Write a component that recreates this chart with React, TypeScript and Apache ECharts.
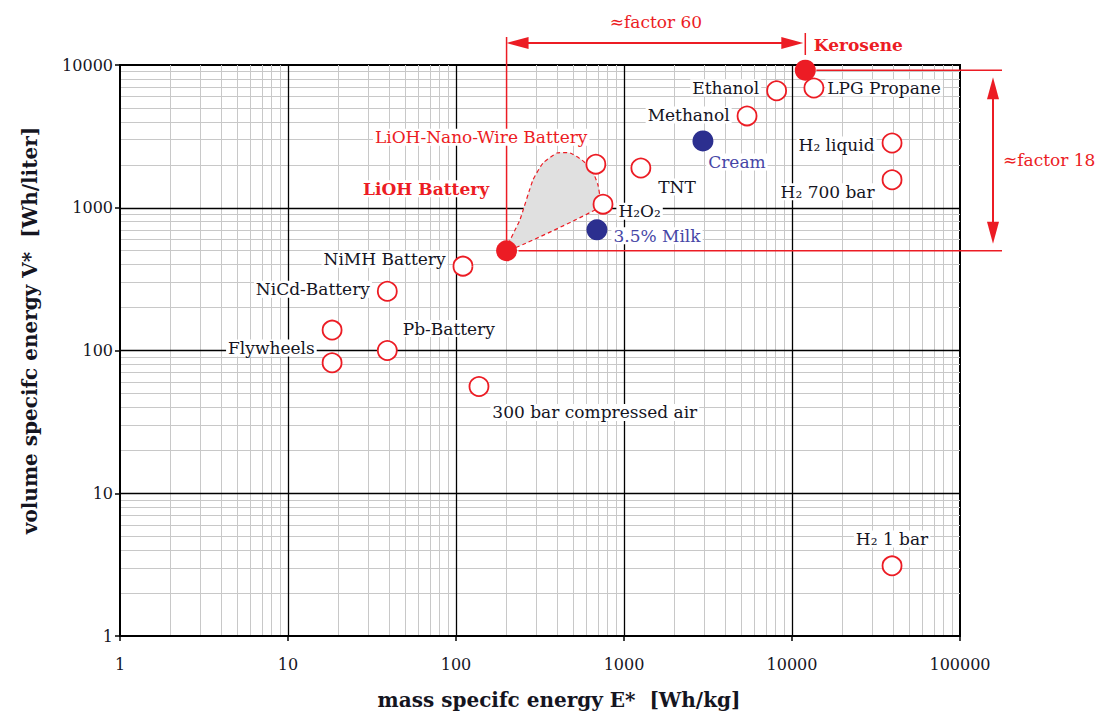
import React, { useEffect, useRef } from "react";
import * as echarts from "echarts";

// ---------- data ----------
const openNames = [
  "Ethanol", "LPG Propane", "Methanol", "H₂ liquid", "H₂ 700 bar",
  "LiOH-Nano-Wire Battery", "TNT", "H₂O₂", "NiMH Battery", "NiCd-Battery",
  "Flywheels", "Flywheels (low)", "Pb-Battery", "300 bar compressed air", "H₂ 1 bar",
];
const openLabels = [
  "Ethanol", "LPG Propane", "Methanol", "H₂ liquid", "H₂ 700 bar",
  "LiOH-Nano-Wire Battery", "TNT", "H₂O₂", "NiMH Battery", "NiCd-Battery",
  "Flywheels", "", "Pb-Battery", "300 bar compressed air", "H₂ 1 bar",
];
const openMass = [8100, 13500, 5400, 39400, 39400, 680, 1260, 750, 110, 39, 18.3, 18.3, 39, 137, 39400];
const openVolume = [6600, 6900, 4400, 2840, 1570, 2020, 1900, 1060, 390, 260, 139, 82, 100, 56, 3.1];

const redNames = ["Kerosene", "LiOH Battery"];
const redMass = [12000, 200];
const redVolume = [9200, 500];

const blueNames = ["Cream", "3.5% Milk"];
const blueMass = [2950, 690];
const blueVolume = [2940, 700];

// LiOH battery range (shaded region)
const blobMass = [200, 240, 287, 330, 399, 477, 562, 645, 700, 720, 672];
const blobVolume = [500, 821, 1564, 2058, 2418, 2418, 2160, 1838, 1443, 1133, 965];

const xTicks = [1, 10, 100, 1000, 10000, 100000];
const yTicks = [1, 10, 100, 1000, 10000];

const factorMassText = "≈factor 60";
const factorVolumeText = "≈factor 18";

// ---------- styles ----------
const RED = "#ec1c24";
const NAVY = "#2c2f8f";
const BLUE_TEXT = "#4646a6";
const TEXT = "#15151f";
const SERIF = "DejaVu Serif";

const place: Record<string, { position: string; offset: [number, number] }> = {
  "Kerosene": { position: "right", offset: [-9, -25] },
  "LiOH Battery": { position: "left", offset: [0, -62] },
  "Ethanol": { position: "left", offset: [0, -3] },
  "LPG Propane": { position: "right", offset: [-4, 0] },
  "Methanol": { position: "left", offset: [0, -1] },
  "Cream": { position: "bottom", offset: [34, -3] },
  "H₂ liquid": { position: "left", offset: [0, 2] },
  "H₂ 700 bar": { position: "left", offset: [0, 12] },
  "LiOH-Nano-Wire Battery": { position: "left", offset: [9, -27] },
  "TNT": { position: "right", offset: [0, 19] },
  "H₂O₂": { position: "right", offset: [-2, 7] },
  "3.5% Milk": { position: "right", offset: [-1, 6] },
  "NiMH Battery": { position: "left", offset: [0, -7] },
  "NiCd-Battery": { position: "left", offset: [0, -2] },
  "Flywheels": { position: "left", offset: [0, 18] },
  "Pb-Battery": { position: "right", offset: [-2, -22] },
  "300 bar compressed air": { position: "right", offset: [-4, 26] },
  "H₂ 1 bar": { position: "top", offset: [0, -3] },
};

function minorValues(lo: number, hi: number) {
  const out: number[] = [];
  for (let d = lo; d < hi; d *= 10) for (let k = 2; k <= 9; k++) out.push(d * k);
  return out;
}

export default function App() {
  const ref = useRef<HTMLDivElement>(null);
  useEffect(() => {
    if (!ref.current) return;
    const chart = echarts.init(ref.current, undefined, { renderer: "svg" });

    const labelFor = (name: string, text: string, color: string, bold = false) => {
      const p = place[name];
      return {
        show: text !== "",
        formatter: text,
        position: p ? p.position : "right",
        offset: p ? p.offset : [0, 0],
        distance: 5,
        color,
        fontFamily: SERIF,
        fontSize: 17,
        fontWeight: bold ? "bold" : "normal",
        backgroundColor: "#fff",
        padding: [0, 2, 0, 2],
      };
    };

    const gridLines: any[] = [];
    minorValues(1, 100000).forEach((v) => gridLines.push({ xAxis: v, lineStyle: { color: "#c8c8c8", width: 1, type: "solid" } }));
    minorValues(1, 10000).forEach((v) => gridLines.push({ yAxis: v, lineStyle: { color: "#c8c8c8", width: 1, type: "solid" } }));
    xTicks.slice(1, -1).forEach((v) => gridLines.push({ xAxis: v, lineStyle: { color: "#000", width: 1.3, type: "solid" } }));
    yTicks.slice(1, -1).forEach((v) => gridLines.push({ yAxis: v, lineStyle: { color: "#000", width: 1.3, type: "solid" } }));

    const axisCommon = {
      type: "log" as const,
      logBase: 10,
      splitLine: { show: false },
      axisLine: { show: true, lineStyle: { color: "#000", width: 2 } },
      axisTick: { show: true, length: 5, lineStyle: { color: "#000", width: 1.5 } },
      minorTick: { show: false },
      nameTextStyle: { fontFamily: SERIF, fontSize: 20, fontWeight: "bold", color: TEXT },
    };
    const tickLabel = { fontFamily: SERIF, fontSize: 16, color: TEXT, formatter: (v: number) => String(Math.round(v)) };

    const option: any = {
      animation: false,
      backgroundColor: "#fff",
      grid: { left: 120, right: 139, top: 65, bottom: 79, show: true, borderColor: "#000", borderWidth: 2, backgroundColor: "transparent" },
      xAxis: {
        ...axisCommon,
        min: 1,
        max: 100000,
        name: "mass specifc energy E*  [Wh/kg]",
        nameLocation: "middle",
        nameGap: 54,
        nameTextStyle: { ...axisCommon.nameTextStyle, padding: [0, 0, 0, 38] },
        axisLabel: { ...tickLabel, margin: 20 },
      },
      yAxis: {
        ...axisCommon,
        min: 1,
        max: 10000,
        name: "volume specifc energy V*  [Wh/liter]",
        nameLocation: "middle",
        nameGap: 80,
        nameRotate: 90,
        nameTextStyle: { ...axisCommon.nameTextStyle, padding: [0, 0, 0, 40] },
        axisLabel: { ...tickLabel, margin: 7 },
      },
      series: [
        {
          type: "line",
          data: [],
          z: 0,
          silent: true,
          markLine: { silent: true, z: 0, symbol: ["none", "none"], label: { show: false }, animation: false, data: gridLines },
        },
        {
          type: "custom",
          z: 1,
          silent: true,
          data: [[blobMass[0], blobVolume[0]]],
          renderItem: (_p: any, api: any) => {
            const pts = blobMass.map((m, i) => api.coord([m, blobVolume[i]]));
            return {
              type: "polygon",
              shape: { points: pts, smooth: 0.15 },
              style: { fill: "#e0e0e0", stroke: RED, lineWidth: 1.2, lineDash: [4, 3] },
            };
          },
        },
        {
          type: "scatter",
          z: 3,
          symbol: "circle",
          symbolSize: 19,
          itemStyle: { color: "#fff", borderColor: RED, borderWidth: 1.8, opacity: 1 },
          data: openNames.map((n, i) => ({ name: n, value: [openMass[i], openVolume[i]], label: labelFor(n, openLabels[i], n === "LiOH-Nano-Wire Battery" ? RED : TEXT) })),
        },
        {
          type: "scatter",
          z: 4,
          symbol: "circle",
          symbolSize: 21,
          itemStyle: { color: RED, opacity: 1 },
          data: redNames.map((n, i) => ({ name: n, value: [redMass[i], redVolume[i]], label: labelFor(n, n, RED, true) })),
        },
        {
          type: "scatter",
          z: 4,
          symbol: "circle",
          symbolSize: 21,
          itemStyle: { color: NAVY, opacity: 1 },
          data: blueNames.map((n, i) => ({ name: n, value: [blueMass[i], blueVolume[i]], label: labelFor(n, n, BLUE_TEXT) })),
        },
      ],
    };
    chart.setOption(option);

    // annotations anchored on Kerosene and LiOH battery through the axes' scales
    const pK = chart.convertToPixel({ gridIndex: 0 }, [redMass[0], redVolume[0]]) as number[];
    const pL = chart.convertToPixel({ gridIndex: 0 }, [redMass[1], redVolume[1]]) as number[];
    const gridTop = 65;
    const rightEnd = 1002;
    const arrowX = 993;
    const arrowY = gridTop - 22;
    const HL = 22, HW = 6;
    const stroke = { stroke: RED, lineWidth: 2 };
    const g: any[] = [
      { type: "line", z: 2, shape: { x1: pL[0], y1: gridTop - 28, x2: pL[0], y2: pL[1] - 10 }, style: { ...stroke, lineWidth: 1.5 } },
      { type: "line", z: 2, shape: { x1: pK[0], y1: gridTop - 32, x2: pK[0], y2: gridTop - 10 }, style: { ...stroke, lineWidth: 1.5 } },
      { type: "line", z: 2, shape: { x1: pL[0] + HL - 2, y1: arrowY, x2: pK[0] - HL, y2: arrowY }, style: stroke },
      { type: "polygon", z: 2, shape: { points: [[pL[0], arrowY], [pL[0] + HL, arrowY - HW], [pL[0] + HL, arrowY + HW]] }, style: { fill: RED } },
      { type: "polygon", z: 2, shape: { points: [[pK[0] - 2, arrowY], [pK[0] - 2 - HL, arrowY - HW], [pK[0] - 2 - HL, arrowY + HW]] }, style: { fill: RED } },
      { type: "text", z: 2, x: (pL[0] + pK[0]) / 2, y: arrowY - 21, style: { text: factorMassText, fill: RED, font: `17px "${SERIF}"`, textAlign: "center", textVerticalAlign: "middle" } },
      { type: "line", z: 2, shape: { x1: pK[0] + 11, y1: pK[1], x2: rightEnd, y2: pK[1] }, style: { ...stroke, lineWidth: 1.5 } },
      { type: "line", z: 2, shape: { x1: pL[0] + 12, y1: pL[1], x2: rightEnd, y2: pL[1] }, style: { ...stroke, lineWidth: 1.5 } },
      { type: "line", z: 2, shape: { x1: arrowX, y1: pK[1] + 7 + HL - 2, x2: arrowX, y2: pL[1] - 7 - HL + 2 }, style: stroke },
      { type: "polygon", z: 2, shape: { points: [[arrowX, pK[1] + 7], [arrowX - HW, pK[1] + 7 + HL], [arrowX + HW, pK[1] + 7 + HL]] }, style: { fill: RED } },
      { type: "polygon", z: 2, shape: { points: [[arrowX, pL[1] - 7], [arrowX - HW, pL[1] - 7 - HL], [arrowX + HW, pL[1] - 7 - HL]] }, style: { fill: RED } },
      { type: "text", z: 2, x: arrowX + 10, y: (pK[1] + pL[1]) / 2, style: { text: factorVolumeText, fill: RED, font: `17px "${SERIF}"`, textAlign: "left", textVerticalAlign: "middle" } },
    ];
    chart.setOption({ graphic: g });

    return () => chart.dispose();
  }, []);
  return <div ref={ref} style={{ position: "fixed", left: 0, top: 0, width: 1099, height: 715, background: "#fff" }} />;
}
